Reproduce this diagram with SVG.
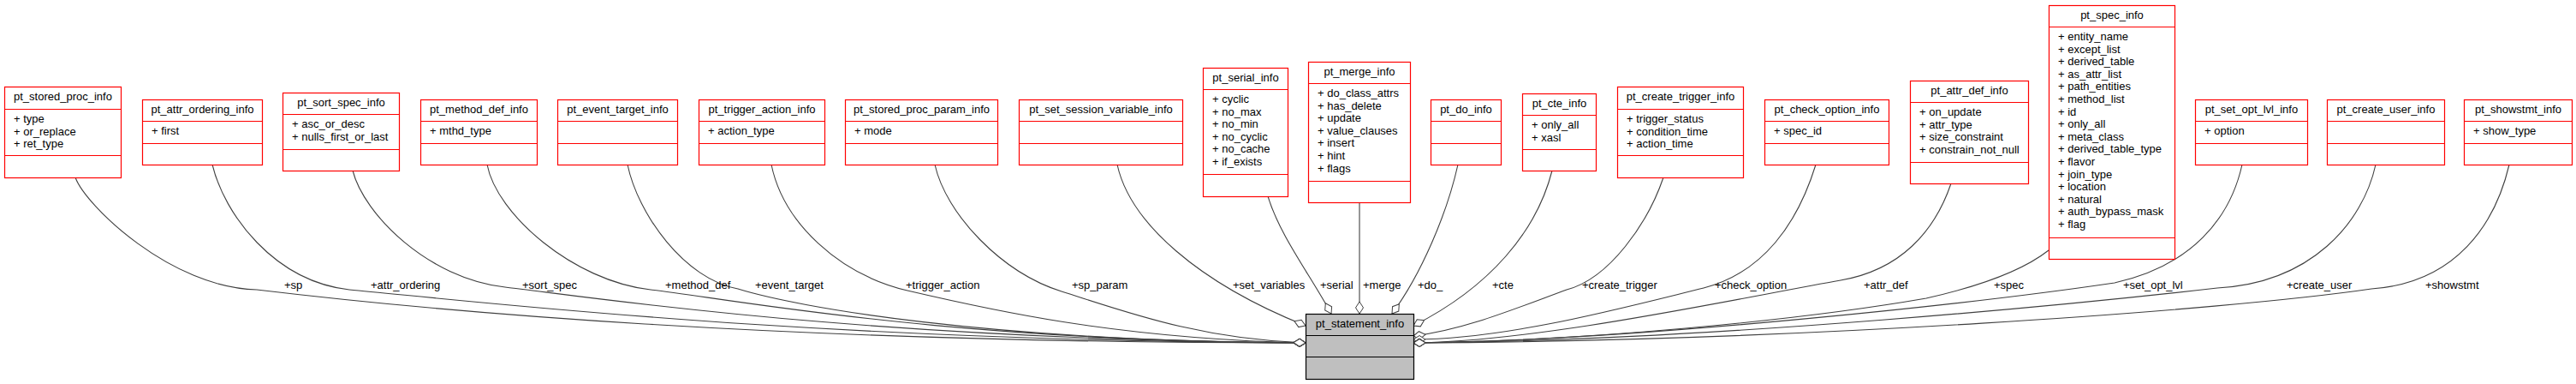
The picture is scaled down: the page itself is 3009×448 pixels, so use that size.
<svg xmlns="http://www.w3.org/2000/svg" width="3009" height="448" viewBox="0 0 3009 448">
<style>
text{font-family:"Liberation Sans",Arial,sans-serif;font-size:13px;fill:#000}
.node rect{fill:#fff;stroke:#ff0000;stroke-width:1.2}
.node line{stroke:#ff0000;stroke-width:1.2}
.main rect{fill:#bfbfbf;stroke:#000;stroke-width:1.2}
.main line{stroke:#000;stroke-width:1.2}
.t{text-anchor:middle}
.edges path{fill:none;stroke:#404040;stroke-width:1.1;marker-end:url(#od)}
</style>
<defs>
<marker id="od" markerUnits="userSpaceOnUse" viewBox="-1 -1 16 12" refX="14" refY="5" markerWidth="16" markerHeight="12" orient="auto">
<path d="M0,5 L7,0.5 L14,5 L7,9.5 Z" fill="#fff" stroke="#404040" stroke-width="1"/>
</marker>
</defs>
<rect width="3009" height="448" fill="#fff"/>

<g class="edges">
<path d="M88,207 C100,240 200,336 300,338 C500,362 900,400 1525,400"/>
<path d="M248,192 C262,250 320,328 408,338 C560,352 950,398 1525,400"/>
<path d="M412,199 C425,250 500,325 590,335 C680,345 1000,396 1525,400"/>
<path d="M569,192 C580,250 670,328 760,338 C850,348 1100,398 1525,400"/>
<path d="M733,192 C745,250 800,326 862,337 C930,358 1150,398 1525,400"/>
<path d="M901,192 C915,260 980,320 1060,339 C1150,360 1300,395 1525,400"/>
<path d="M1092,192 C1105,250 1170,318 1240,340 C1310,362 1400,396 1525,400"/>
<path d="M1305,192 C1320,260 1400,330 1525,380"/>
<path d="M1481,229 C1495,275 1530,320 1555,366"/>
<path d="M1588,236 L1588,366"/>
<path d="M1703,192 C1690,250 1660,320 1626,366"/>
<path d="M1813,199 C1795,270 1740,335 1651,380"/>
<path d="M1943,207 C1925,260 1880,325 1830,338 C1770,360 1710,385 1651,392"/>
<path d="M2121,192 C2100,260 2060,318 1990,336 C1900,358 1760,396 1651,396"/>
<path d="M2279,214 C2260,270 2220,315 2150,327 C2020,350 1800,398 1651,400"/>
<path d="M2393,292 C2370,310 2330,330 2250,348 C2100,374 1850,398 1651,400"/>
<path d="M2619,192 C2605,255 2560,310 2470,330 C2300,355 1900,398 1651,400"/>
<path d="M2775,192 C2760,260 2700,330 2590,336 C2450,352 2000,398 1651,400"/>
<path d="M2931,192 C2915,260 2870,330 2770,337 C2600,362 2100,398 1651,400"/>
</g>

<g class="labels">
<text x="332" y="337">+sp</text>
<text x="433" y="337">+attr_ordering</text>
<text x="610" y="337">+sort_spec</text>
<text x="777" y="337">+method_def</text>
<text x="882" y="337">+event_target</text>
<text x="1058" y="337">+trigger_action</text>
<text x="1252" y="337">+sp_param</text>
<text x="1440" y="337">+set_variables</text>
<text x="1542" y="337">+serial</text>
<text x="1592" y="337">+merge</text>
<text x="1656" y="337">+do_</text>
<text x="1743" y="337">+cte</text>
<text x="1848" y="337">+create_trigger</text>
<text x="2003" y="337">+check_option</text>
<text x="2177" y="337">+attr_def</text>
<text x="2329" y="337">+spec</text>
<text x="2480" y="337">+set_opt_lvl</text>
<text x="2671" y="337">+create_user</text>
<text x="2833" y="337">+showstmt</text>
</g>

<g id="pt_stored_proc_info" class="node">
<rect x="5.5" y="101.5" width="136" height="106"/>
<line x1="5.5" y1="127.5" x2="141.5" y2="127.5"/><line x1="5.5" y1="181.5" x2="141.5" y2="181.5"/>
<text class="t" x="73.5" y="117">pt_stored_proc_info</text>
<text x="16" y="143">+ type<tspan x="16" dy="14.6">+ or_replace</tspan><tspan x="16" dy="14.6">+ ret_type</tspan></text>
</g>

<g id="pt_attr_ordering_info" class="node">
<rect x="166.5" y="116.5" width="140" height="76"/>
<line x1="166.5" y1="141.5" x2="306.5" y2="141.5"/><line x1="166.5" y1="167.5" x2="306.5" y2="167.5"/>
<text class="t" x="236.5" y="132">pt_attr_ordering_info</text>
<text x="177" y="157">+ first</text>
</g>

<g id="pt_sort_spec_info" class="node">
<rect x="330.5" y="108.5" width="136" height="91"/>
<line x1="330.5" y1="133.5" x2="466.5" y2="133.5"/><line x1="330.5" y1="174.5" x2="466.5" y2="174.5"/>
<text class="t" x="398.5" y="124">pt_sort_spec_info</text>
<text x="341" y="149">+ asc_or_desc<tspan x="341" dy="14.6">+ nulls_first_or_last</tspan></text>
</g>

<g id="pt_method_def_info" class="node">
<rect x="491.5" y="116.5" width="136" height="76"/>
<line x1="491.5" y1="141.5" x2="627.5" y2="141.5"/><line x1="491.5" y1="167.5" x2="627.5" y2="167.5"/>
<text class="t" x="559.5" y="132">pt_method_def_info</text>
<text x="502" y="157">+ mthd_type</text>
</g>

<g id="pt_event_target_info" class="node">
<rect x="651.5" y="116.5" width="140" height="76"/>
<line x1="651.5" y1="141.5" x2="791.5" y2="141.5"/><line x1="651.5" y1="167.5" x2="791.5" y2="167.5"/>
<text class="t" x="721.5" y="132">pt_event_target_info</text>
</g>

<g id="pt_trigger_action_info" class="node">
<rect x="816.5" y="116.5" width="147" height="76"/>
<line x1="816.5" y1="141.5" x2="963.5" y2="141.5"/><line x1="816.5" y1="167.5" x2="963.5" y2="167.5"/>
<text class="t" x="890" y="132">pt_trigger_action_info</text>
<text x="827" y="157">+ action_type</text>
</g>

<g id="pt_stored_proc_param_info" class="node">
<rect x="987.5" y="116.5" width="178" height="76"/>
<line x1="987.5" y1="141.5" x2="1165.5" y2="141.5"/><line x1="987.5" y1="167.5" x2="1165.5" y2="167.5"/>
<text class="t" x="1076.5" y="132">pt_stored_proc_param_info</text>
<text x="998" y="157">+ mode</text>
</g>

<g id="pt_set_session_variable_info" class="node">
<rect x="1190.5" y="116.5" width="191" height="76"/>
<line x1="1190.5" y1="141.5" x2="1381.5" y2="141.5"/><line x1="1190.5" y1="167.5" x2="1381.5" y2="167.5"/>
<text class="t" x="1286" y="132">pt_set_session_variable_info</text>
</g>

<g id="pt_serial_info" class="node">
<rect x="1405.5" y="79.5" width="99" height="150"/>
<line x1="1405.5" y1="104.5" x2="1504.5" y2="104.5"/><line x1="1405.5" y1="203.5" x2="1504.5" y2="203.5"/>
<text class="t" x="1455" y="95">pt_serial_info</text>
<text x="1416" y="120">+ cyclic<tspan x="1416" dy="14.6">+ no_max</tspan><tspan x="1416" dy="14.6">+ no_min</tspan><tspan x="1416" dy="14.6">+ no_cyclic</tspan><tspan x="1416" dy="14.6">+ no_cache</tspan><tspan x="1416" dy="14.6">+ if_exists</tspan></text>
</g>

<g id="pt_merge_info" class="node">
<rect x="1528.5" y="72.5" width="119" height="164"/>
<line x1="1528.5" y1="97.5" x2="1647.5" y2="97.5"/><line x1="1528.5" y1="211.5" x2="1647.5" y2="211.5"/>
<text class="t" x="1588" y="88">pt_merge_info</text>
<text x="1539" y="113">+ do_class_attrs<tspan x="1539" dy="14.6">+ has_delete</tspan><tspan x="1539" dy="14.6">+ update</tspan><tspan x="1539" dy="14.6">+ value_clauses</tspan><tspan x="1539" dy="14.6">+ insert</tspan><tspan x="1539" dy="14.6">+ hint</tspan><tspan x="1539" dy="14.6">+ flags</tspan></text>
</g>

<g id="pt_do_info" class="node">
<rect x="1671.5" y="116.5" width="82" height="76"/>
<line x1="1671.5" y1="141.5" x2="1753.5" y2="141.5"/><line x1="1671.5" y1="167.5" x2="1753.5" y2="167.5"/>
<text class="t" x="1712.5" y="132">pt_do_info</text>
</g>

<g id="pt_cte_info" class="node">
<rect x="1778.5" y="109.5" width="86" height="90"/>
<line x1="1778.5" y1="134.5" x2="1864.5" y2="134.5"/><line x1="1778.5" y1="174.5" x2="1864.5" y2="174.5"/>
<text class="t" x="1821.5" y="125">pt_cte_info</text>
<text x="1789" y="150">+ only_all<tspan x="1789" dy="14.6">+ xasl</tspan></text>
</g>

<g id="pt_create_trigger_info" class="node">
<rect x="1889.5" y="101.5" width="147" height="106"/>
<line x1="1889.5" y1="127.5" x2="2036.5" y2="127.5"/><line x1="1889.5" y1="181.5" x2="2036.5" y2="181.5"/>
<text class="t" x="1963" y="117">pt_create_trigger_info</text>
<text x="1900" y="143">+ trigger_status<tspan x="1900" dy="14.6">+ condition_time</tspan><tspan x="1900" dy="14.6">+ action_time</tspan></text>
</g>

<g id="pt_check_option_info" class="node">
<rect x="2061.5" y="116.5" width="145" height="76"/>
<line x1="2061.5" y1="141.5" x2="2206.5" y2="141.5"/><line x1="2061.5" y1="167.5" x2="2206.5" y2="167.5"/>
<text class="t" x="2134" y="132">pt_check_option_info</text>
<text x="2072" y="157">+ spec_id</text>
</g>

<g id="pt_attr_def_info" class="node">
<rect x="2231.5" y="94.5" width="138" height="120"/>
<line x1="2231.5" y1="119.5" x2="2369.5" y2="119.5"/><line x1="2231.5" y1="189.5" x2="2369.5" y2="189.5"/>
<text class="t" x="2300.5" y="110">pt_attr_def_info</text>
<text x="2242" y="135">+ on_update<tspan x="2242" dy="14.6">+ attr_type</tspan><tspan x="2242" dy="14.6">+ size_constraint</tspan><tspan x="2242" dy="14.6">+ constrain_not_null</tspan></text>
</g>

<g id="pt_spec_info" class="node">
<rect x="2393.5" y="6.5" width="147" height="296"/>
<line x1="2393.5" y1="31.5" x2="2540.5" y2="31.5"/><line x1="2393.5" y1="277.5" x2="2540.5" y2="277.5"/>
<text class="t" x="2467" y="22">pt_spec_info</text>
<text x="2404" y="47">+ entity_name<tspan x="2404" dy="14.6">+ except_list</tspan><tspan x="2404" dy="14.6">+ derived_table</tspan><tspan x="2404" dy="14.6">+ as_attr_list</tspan><tspan x="2404" dy="14.6">+ path_entities</tspan><tspan x="2404" dy="14.6">+ method_list</tspan><tspan x="2404" dy="14.6">+ id</tspan><tspan x="2404" dy="14.6">+ only_all</tspan><tspan x="2404" dy="14.6">+ meta_class</tspan><tspan x="2404" dy="14.6">+ derived_table_type</tspan><tspan x="2404" dy="14.6">+ flavor</tspan><tspan x="2404" dy="14.6">+ join_type</tspan><tspan x="2404" dy="14.6">+ location</tspan><tspan x="2404" dy="14.6">+ natural</tspan><tspan x="2404" dy="14.6">+ auth_bypass_mask</tspan><tspan x="2404" dy="14.6">+ flag</tspan></text>
</g>

<g id="pt_set_opt_lvl_info" class="node">
<rect x="2564.5" y="116.5" width="131" height="76"/>
<line x1="2564.5" y1="141.5" x2="2695.5" y2="141.5"/><line x1="2564.5" y1="167.5" x2="2695.5" y2="167.5"/>
<text class="t" x="2630" y="132">pt_set_opt_lvl_info</text>
<text x="2575" y="157">+ option</text>
</g>

<g id="pt_create_user_info" class="node">
<rect x="2718.5" y="116.5" width="137" height="76"/>
<line x1="2718.5" y1="141.5" x2="2855.5" y2="141.5"/><line x1="2718.5" y1="167.5" x2="2855.5" y2="167.5"/>
<text class="t" x="2787" y="132">pt_create_user_info</text>
</g>

<g id="pt_showstmt_info" class="node">
<rect x="2878.5" y="116.5" width="126" height="76"/>
<line x1="2878.5" y1="141.5" x2="3004.5" y2="141.5"/><line x1="2878.5" y1="167.5" x2="3004.5" y2="167.5"/>
<text class="t" x="2941.5" y="132">pt_showstmt_info</text>
<text x="2889" y="157">+ show_type</text>
</g>

<g id="pt_statement_info" class="main">
<rect x="1525.5" y="366.5" width="126" height="76"/>
<line x1="1525.5" y1="391.5" x2="1651.5" y2="391.5"/><line x1="1525.5" y1="416.5" x2="1651.5" y2="416.5"/>
<text class="t" x="1588.5" y="382">pt_statement_info</text>
</g>
</svg>
